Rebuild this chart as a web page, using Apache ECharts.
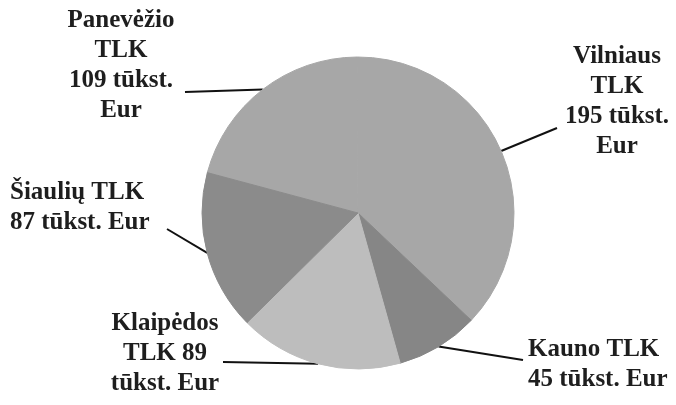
<!DOCTYPE html>
<html lang="lt">
<head>
    <meta charset="UTF-8">
    <title>TLK</title>
    <script src="https://cdn.jsdelivr.net/npm/echarts@6/dist/echarts.min.js"></script>
</head>
<body style="margin:0">
<div id="main" style="width:676px; height:405px;"></div>
<script>
    // duomenys
    var names = ['Panevėžio', 'Vilniaus', 'Kauno', 'Klaipėdos', 'Šiaulių'];
    var values = [109, 195, 45, 89, 87];
    var labels = [
        'Panevėžio\nTLK\n109 tūkst.\nEur',
        'Vilniaus\nTLK\n195 tūkst.\nEur',
        'Kauno TLK\n45 tūkst. Eur',
        'Klaipėdos\nTLK 89\ntūkst. Eur',
        'Šiaulių TLK\n87 tūkst. Eur'
    ];
    var colors = ['#a7a7a7', '#a7a7a7', '#868686', '#bdbdbd', '#8b8b8b'];

    // label placement: [x, y, align, line end dx, line end dy]
    var place = [
        [121, 6, 'center', 64, 86],
        [617, 42, 'center', -60, 86],
        [528, 335, 'left', -5, 25],
        [165, 309, 'center', 58, 53],
        [10, 178, 'left', 157, 51]
    ];

    var cx = 358, cy = 213, r = 156;
    var total = values.reduce(function (a, b) { return a + b; }, 0);

    function edgePoint(i) {
        var before = 0;
        for (var k = 0; k < i; k++) before += values[k];
        var mid = 165 - (before + values[i] / 2) / total * 360;
        var rad = mid * Math.PI / 180;
        return [cx + r * Math.cos(rad), cy - r * Math.sin(rad)];
    }

    var myChart = echarts.init(document.getElementById('main'));
    var data = [];
    for (var i = 0; i < names.length; i++) {
        data.push({
            value: values[i],
            name: names[i],
            // border in the same colour hides the seam between Panevėžio and Vilniaus
            itemStyle: {color: colors[i], borderColor: colors[i], borderWidth: 1},
            label: {formatter: labels[i], align: place[i][2]}
        });
    }

    var option = {
        animation: false,
        series: [
            {
                type: 'pie',
                center: [cx, cy],
                radius: r,
                startAngle: 165,
                clockwise: true,
                label: {
                    show: true,
                    position: 'outside',
                    fontFamily: 'Liberation Serif',
                    fontWeight: 'bold',
                    fontSize: 25,
                    lineHeight: 30,
                    color: '#1e1e1e'
                },
                labelLine: {
                    show: true,
                    length: 10,
                    length2: 10,
                    lineStyle: {color: '#111', width: 2}
                },
                labelLayout: function (p) {
                    var pl = place[p.dataIndex];
                    var start = edgePoint(p.dataIndex);
                    return {
                        x: pl[0],
                        y: pl[1],
                        align: pl[2],
                        verticalAlign: 'top',
                        labelLinePoints: [start, [pl[0] + pl[3], pl[1] + pl[4]]]
                    };
                },
                data: data
            }
        ]
    };
    myChart.setOption(option);
</script>
</body>
</html>
